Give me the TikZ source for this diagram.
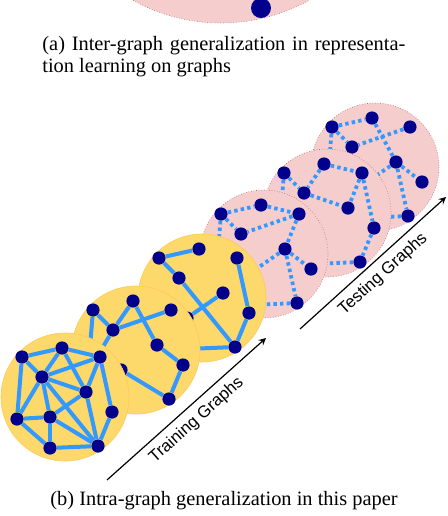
\documentclass[tikz,border=0pt]{standalone}
\usepackage{fontspec}
\setmainfont{Liberation Serif}
\setsansfont{Liberation Sans}
\usetikzlibrary{calc}

\definecolor{trainfill}{RGB}{253,216,106}
\definecolor{testfill}{RGB}{246,205,205}
\definecolor{vtxblue}{RGB}{0,0,140}
\definecolor{edgeblue}{RGB}{51,153,255}

% same vertex layout in every graph (offsets from the circle centre)
\newcommand{\vlayout}{1/-43/-40, 2/-3/-49, 3/35/-40, 4/-23/-20, 5/21/-5,
  6/47/15, 7/33/49, 8/-15/20, 9/-48/22, 10/-15/51}

\tikzset{
  vtx/.style={circle, fill=vtxblue, inner sep=0pt, minimum size=6.6pt},
  trainedge/.style={edgeblue, line width=2pt},
  testedge/.style={edgeblue, line width=1.9pt, dash pattern=on 1.7pt off 1.6pt},
  trainbg/.style={fill=trainfill, draw=trainfill!85!orange, line width=0.3pt},
  testbg/.style={fill=testfill, draw=red!45!black!60, line width=0.3pt, densely dotted},
  capt/.style={font=\fontsize{10.2}{11}\selectfont, inner sep=0pt},
  axislabel/.style={font=\fontsize{8.4}{10}\selectfont\sffamily},
  arr/.style={-stealth, semithick}
}

\begin{document}
\begin{tikzpicture}[x=0.5pt, y=-0.5pt]

\useasboundingbox (0,0) rectangle (448,516);
\clip (0,0) rectangle (448,516);

% Bottom of the graph from part (a)
\fill[testbg] (221,-159) circle (182);
\node[vtx, minimum size=10pt] (big) at (261,8) {};

% Caption (a)
\node[capt, text width=181.5pt, align=justify, anchor=north west] (capa) at (42,36)
  {(a) Inter-graph generalization in representa-\linebreak tion learning on graphs};

% Testing graphs, back to front
\begin{scope}[shift={(375,167)}]
  \fill[testbg] (0,0) circle (64);
  \foreach \k/\dx/\dy in \vlayout
    \node[vtx] (te3-\k) at (\dx,\dy) {};
  \foreach \u/\v in {1/2, 1/4, 3/4, 2/5, 5/6, 5/8, 5/7, 7/10, 1/9}
    \draw[testedge] (te3-\u) -- (te3-\v);
\end{scope}

\begin{scope}[shift={(327,213)}]
  \fill[testbg] (0,0) circle (64);
  \foreach \k/\dx/\dy in \vlayout
    \node[vtx] (te2-\k) at (\dx,\dy) {};
  \foreach \u/\v in {2/3, 2/4, 1/4, 4/5, 3/5, 3/6, 1/9, 7/10, 6/7}
    \draw[testedge] (te2-\u) -- (te2-\v);
\end{scope}

\begin{scope}[shift={(264,254)}]
  \fill[testbg] (0,0) circle (64);
  \foreach \k/\dx/\dy in \vlayout
    \node[vtx] (te1-\k) at (\dx,\dy) {};
  \foreach \u/\v in {1/2, 2/3, 1/4, 3/4, 3/5, 5/6, 5/7, 1/9, 5/8, 7/10}
    \draw[testedge] (te1-\u) -- (te1-\v);
\end{scope}

% Training graphs, back to front
\begin{scope}[shift={(202,298)}]
  \fill[trainbg] (0,0) circle (64);
  \foreach \k/\dx/\dy in \vlayout
    \node[vtx] (tr3-\k) at (\dx,\dy) {};
  \foreach \u/\v in {1/2, 1/4, 4/7, 5/8, 3/6, 6/7, 7/10}
    \draw[trainedge] (tr3-\u) -- (tr3-\v);
\end{scope}

\begin{scope}[shift={(136,350)}]
  \fill[trainbg] (0,0) circle (64);
  \foreach \k/\dx/\dy in \vlayout
    \node[vtx] (tr2-\k) at (\dx,\dy) {};
  \foreach \u/\v in {1/4, 2/4, 2/5, 3/4, 5/6, 6/7, 1/9, 4/9, 7/8}
    \draw[trainedge] (tr2-\u) -- (tr2-\v);
\end{scope}

\begin{scope}[shift={(65,397)}]
  \fill[trainbg] (0,0) circle (64);
  \foreach \k/\dx/\dy in \vlayout
    \node[vtx] (tr1-\k) at (\dx,\dy) {};
  \foreach \u/\v in {1/2, 2/3, 1/4, 1/9, 2/4, 2/5, 3/4, 3/5, 3/6, 4/5, 4/8,
                     4/9, 4/7, 5/8, 5/7, 6/7, 8/9, 8/10, 8/7, 9/10, 10/7}
    \draw[trainedge] (tr1-\u) -- (tr1-\v);
\end{scope}

% Arrows with their labels
\coordinate (trainS) at (107,480);
\coordinate (trainE) at (266,338);
\coordinate (testS) at (300,329);
\coordinate (testE) at (446,197);
\draw[arr] (trainS) -- (trainE) node[axislabel, midway, sloped, below] {Training Graphs};
\draw[arr] (testS) -- (testE) node[axislabel, midway, sloped, below] {Testing Graphs};

% Caption (b)
\node[capt, anchor=base] (capb) at (224,505) {(b) Intra-graph generalization in this paper};

\end{tikzpicture}
\end{document}
